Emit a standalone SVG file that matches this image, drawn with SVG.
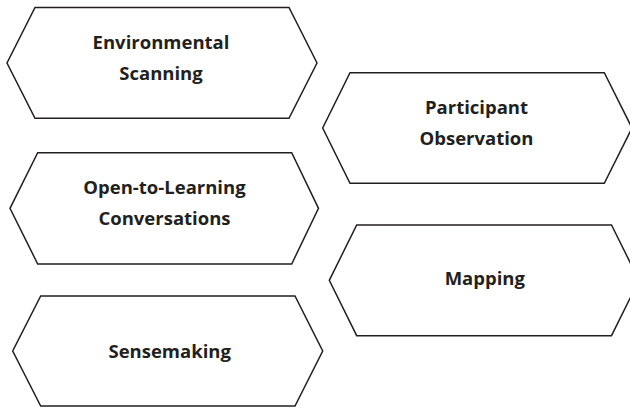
<svg xmlns="http://www.w3.org/2000/svg" width="630" height="407" viewBox="0 0 630 407">
  <style>
    .hex { fill: #ffffff; stroke: #231f20; stroke-width: 1.5; stroke-linejoin: miter; }
    .lbl { font-family: "Open Sans", "Liberation Sans", sans-serif; font-weight: bold; font-size: 18.5px; fill: #231f20; text-anchor: middle; }
  </style>
  <rect width="630" height="407" fill="#ffffff"/>
  <g id="connectors"></g>

  <g id="environmental-scanning">
    <polygon class="hex" points="35,7.5 289,7.5 317,63 289,118.3 35,118.3 7,63"/>
    <text class="lbl" x="161" y="49">Environmental</text>
    <text class="lbl" x="161" y="79.5">Scanning</text>
  </g>

  <g id="participant-observation">
    <polygon class="hex" points="350,72.7 604.3,72.7 632,128 604.3,183.3 350,183.3 322.7,128"/>
    <text class="lbl" x="476.5" y="113.5">Participant</text>
    <text class="lbl" x="476.5" y="145">Observation</text>
  </g>

  <g id="open-to-learning-conversations">
    <polygon class="hex" points="37.7,152.7 291.7,152.7 318.5,208.3 291.7,264 37.7,264 10,208.3"/>
    <text class="lbl" x="164.5" y="194">Open-to-Learning</text>
    <text class="lbl" x="164.5" y="224.5">Conversations</text>
  </g>

  <g id="mapping">
    <polygon class="hex" points="356.7,225 611.5,225 639,280.3 611.5,335.7 356.7,335.7 329.3,280.3"/>
    <text class="lbl" x="484.8" y="285">Mapping</text>
  </g>

  <g id="sensemaking">
    <polygon class="hex" points="40.7,296 295,296 322.7,351 295,406 40.7,406 12.7,351"/>
    <text class="lbl" x="169.7" y="357.7">Sensemaking</text>
  </g>
</svg>
